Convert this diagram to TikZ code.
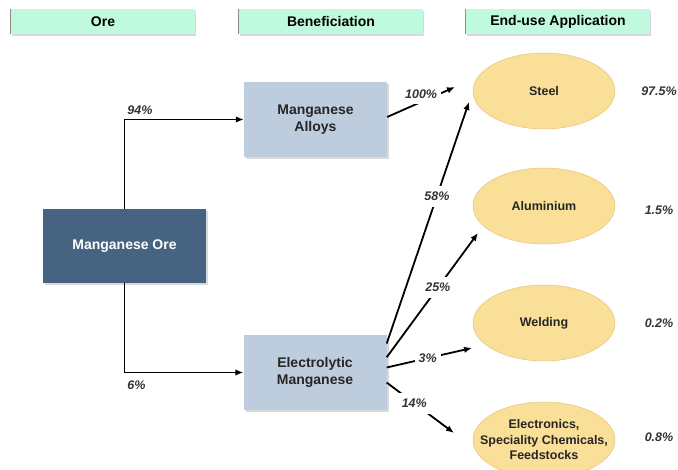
\documentclass[tikz,border=0pt]{standalone}
\usepackage{fontspec}
\setmainfont{Liberation Sans}
\usetikzlibrary{arrows.meta,shadows,shapes.geometric}

\definecolor{headgreen}{RGB}{192,250,222}
\definecolor{oreblue}{RGB}{70,99,129}
\definecolor{benblue}{RGB}{190,205,222}
\definecolor{usefill}{RGB}{250,223,152}
\definecolor{useedge}{RGB}{226,188,108}

\begin{document}
\begin{tikzpicture}[x=1pt, y=-1pt,
	header/.style={fill=headgreen, minimum width=184pt, minimum height=25pt, inner sep=0pt,
		font=\fontsize{14}{16}\selectfont\bfseries,
		drop shadow={shadow xshift=1pt, shadow yshift=-2pt, opacity=.3}},
	box/.style={fill=benblue, minimum width=143pt, minimum height=75pt, align=center,
		text=black!85, font=\fontsize{14}{17.5}\selectfont\bfseries,
		drop shadow={shadow xshift=2pt, shadow yshift=-2pt, opacity=.3}},
	orebox/.style={box, fill=oreblue, minimum width=163pt, minimum height=74pt, text=white},
	enduse/.style={ellipse, draw=useedge, fill=usefill, minimum width=142pt, minimum height=76pt,
		inner sep=0pt, align=center, text=black!85, font=\fontsize{12.5}{15.5}\selectfont\bfseries},
	pct/.style={font=\fontsize{12.5}{14}\selectfont\bfseries\itshape, text=black!80, inner sep=2pt},
	cut/.style={pct, fill=white, inner xsep=4pt, inner ysep=6pt},
	flow/.style={line width=1.8pt, -{Latex[length=8pt,width=6.5pt]}}]
			%%%%% START %%%%%
			\useasboundingbox (0,0) rectangle (678,470);
			
			% column heads
			\node[header] (hore) at (103,21.5) {Ore};
			\node[header] (hben) at (331,21.5) {Beneficiation};
			\node[header] (huse) at (558,21.5) {End-use Application};
			\foreach \h in {hore,hben,huse}
				\draw[black!45, line width=1.2pt] (\h.north west) -- (\h.south west);
			
			% ore and beneficiation
			\node[orebox] (ore) at (124.5,246) {Manganese Ore};
			\node[box] (alloys) at (315.5,119.5) {Manganese\\Alloys};
			\node[box] (elec) at (315,372.5) {Electrolytic\\Manganese};
			
			% end uses
			\node[enduse] (steel) at (544,91) {Steel};
			\node[enduse] (alu) at (544,206) {Aluminium};
			\node[enduse] (weld) at (544,323) {Welding};
			\node[enduse, inner xsep=-25pt] (elect) at (544,440) {Electronics,\\Speciality Chemicals,\\Feedstocks};
			
			\node[pct] (psteel) at (659,91) {97.5\%};
			\node[pct] (palu) at (659,210) {1.5\%};
			\node[pct] (pweld) at (659,323) {0.2\%};
			\node[pct] (pelect) at (659,437) {0.8\%};
			
			% arrow tips short of the ellipses
			\coordinate (t100) at (455,87);
			\coordinate (t58) at (469,102);
			\coordinate (t25) at (478,233);
			\coordinate (t3) at (472,348);
			\coordinate (t14) at (454,433);
			
			\draw[flow] (ore.north) |- node[pct, pos=.5, anchor=south west, yshift=2pt] {94\%} (alloys.west);
			\draw[flow] (ore.south) |- node[pct, pos=.5, anchor=north west, yshift=-5pt] {6\%} (elec.west);
			
			\draw[flow] (alloys.2) -- node[cut, pos=.5, yshift=8pt] {100\%} (t100);
			\draw[flow] (elec.22) -- node[cut, pos=.61] {58\%} (t58);
			\draw[flow] (elec.12) -- node[cut, pos=.56] {25\%} (t25);
			\draw[flow] (elec.4) -- node[cut, pos=.48] {3\%} (t3);
			\draw[flow] (elec.-8) -- node[cut, pos=.41] {14\%} (t14);
			
			%%%%% END %%%%%
\end{tikzpicture}
\end{document}
